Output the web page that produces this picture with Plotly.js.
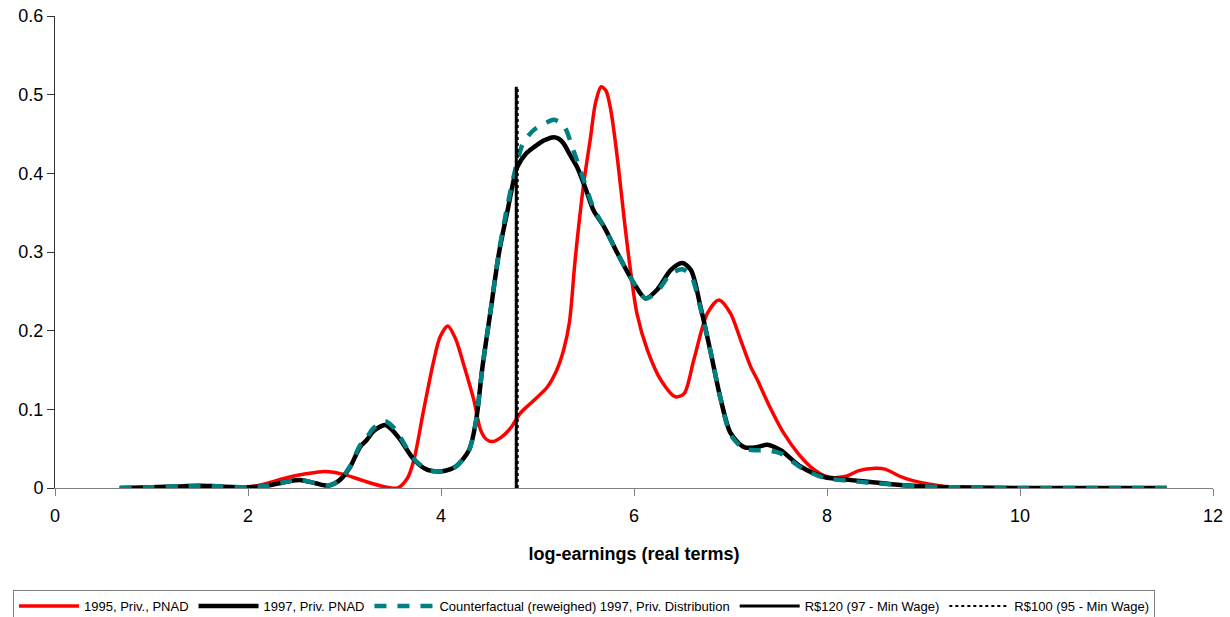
<!DOCTYPE html>
<html>
<head>
<meta charset="utf-8">
<script src="https://cdn.plot.ly/plotly-3.0.1.min.js"></script>
<style>html,body{margin:0;padding:0;background:#fff;}#chart{width:1230px;height:617px;}</style>
</head>
<body>
<div id="chart"></div>
<script>
// 1995, Priv., PNAD
const x1995 = [0.7,1.0,1.5,2.0,2.2,2.4,2.6,2.8,3.0,3.2,3.4,3.55,3.65,3.72,3.82,3.92,3.99,4.07,4.15,4.23,4.34,4.41,4.47,4.53,4.62,4.72,4.82,4.95,5.1,5.2,5.27,5.33,5.39,5.48,5.55,5.6,5.66,5.71,5.76,5.83,5.9,5.96,6.03,6.14,6.28,6.43,6.52,6.62,6.76,6.88,7.0,7.1,7.21,7.28,7.4,7.55,7.7,7.83,8.01,8.2,8.33,8.5,8.6,8.77,8.9,9.05,9.21,9.3];
const y1995 = [0,0,0.001,0.001,0.006,0.013,0.018,0.021,0.017,0.009,0.002,0,0.012,0.036,0.099,0.159,0.192,0.206,0.19,0.159,0.112,0.074,0.062,0.059,0.064,0.076,0.095,0.11,0.128,0.15,0.175,0.21,0.29,0.388,0.446,0.489,0.51,0.505,0.48,0.417,0.34,0.28,0.222,0.175,0.137,0.116,0.12,0.163,0.222,0.239,0.222,0.19,0.154,0.137,0.105,0.07,0.044,0.027,0.014,0.015,0.022,0.025,0.024,0.014,0.009,0.005,0.002,0];

// 1997, Priv. PNAD
const x1997 = [0.67,1.0,1.3,1.5,1.7,2.0,2.2,2.4,2.55,2.7,2.83,2.95,3.06,3.16,3.23,3.3,3.42,3.5,3.58,3.72,3.86,3.99,4.1,4.17,4.29,4.36,4.43,4.51,4.6,4.69,4.79,4.88,4.96,5.07,5.17,5.22,5.27,5.33,5.41,5.5,5.58,5.69,5.83,6.0,6.12,6.24,6.38,6.5,6.59,6.69,6.79,6.9,7.0,7.14,7.28,7.38,7.52,7.73,7.97,8.25,8.5,8.73,9.0,9.3,10.0,11.52];
const y1997 = [0,0.001,0.002,0.003,0.002,0.001,0.003,0.008,0.01,0.006,0.003,0.01,0.027,0.052,0.061,0.072,0.08,0.073,0.061,0.036,0.023,0.021,0.024,0.029,0.048,0.083,0.154,0.222,0.298,0.353,0.408,0.425,0.433,0.442,0.446,0.444,0.438,0.425,0.408,0.38,0.353,0.332,0.298,0.26,0.241,0.252,0.277,0.286,0.277,0.23,0.175,0.112,0.07,0.052,0.052,0.055,0.048,0.027,0.014,0.01,0.007,0.004,0.002,0.001,0,0];

// Counterfactual (reweighed) 1997, Priv. Distribution
const xCf = [0.67,1.0,1.3,1.5,1.7,2.0,2.2,2.4,2.55,2.7,2.83,2.95,3.06,3.16,3.23,3.3,3.42,3.5,3.58,3.72,3.86,3.99,4.1,4.17,4.29,4.36,4.43,4.51,4.6,4.69,4.79,4.85,4.96,5.07,5.17,5.27,5.37,5.48,5.58,5.69,5.83,6.0,6.12,6.24,6.38,6.5,6.59,6.69,6.79,6.9,7.0,7.14,7.28,7.38,7.52,7.73,7.97,8.25,8.5,8.73,9.0,9.3,10.0,11.52];
const yCf = [0,0.001,0.002,0.003,0.002,0.001,0.003,0.008,0.01,0.006,0.003,0.01,0.028,0.054,0.064,0.076,0.085,0.078,0.064,0.037,0.023,0.021,0.024,0.029,0.048,0.083,0.154,0.222,0.3,0.36,0.415,0.438,0.455,0.463,0.468,0.461,0.43,0.391,0.356,0.332,0.298,0.26,0.241,0.25,0.272,0.278,0.27,0.228,0.175,0.112,0.068,0.05,0.048,0.048,0.044,0.026,0.013,0.009,0.006,0.004,0.002,0.001,0,0];

// Minimum wage markers
const xMin97 = [4.78, 4.78];
const yMin97 = [0, 0.51];
const xMin95 = [4.795, 4.795];
const yMin95 = [0, 0.51];

const names = ['1995, Priv., PNAD','1997, Priv. PNAD','Counterfactual (reweighed) 1997, Priv. Distribution','R$120 (97 - Min Wage)','R$100 (95 - Min Wage)'];
const xTicks = [0,2,4,6,8,10,12];
const yTicks = [0,0.1,0.2,0.3,0.4,0.5,0.6];

const traces = [
  {x:x1995, y:y1995, name:names[0], mode:'lines', line:{color:'#FF0000', width:3.5, shape:'spline', smoothing:0.8}},
  {x:x1997, y:y1997, name:names[1], mode:'lines', line:{color:'#000000', width:4.5, shape:'spline', smoothing:0.8}},
  {x:xCf, y:yCf, name:names[2], mode:'lines', line:{color:'#008080', width:4.5, dash:'12px,11px', shape:'spline', smoothing:0.8}},
  {x:xMin97, y:yMin97, name:names[3], mode:'lines', line:{color:'#000000', width:3}},
  {x:xMin95, y:yMin95, name:names[4], mode:'lines', line:{color:'#000000', width:2, dash:'3px,3px'}}
];

const layout = {
  width:1230, height:617,
  margin:{l:55, r:17, t:16, b:129},
  paper_bgcolor:'#ffffff', plot_bgcolor:'#ffffff',
  font:{family:'Arial, "Liberation Sans", sans-serif', color:'#000000'},
  showlegend:true,
  xaxis:{
    range:[0,12], tickvals:xTicks, ticktext:xTicks.map(String),
    showgrid:false, zeroline:false, showline:true, linecolor:'#808080', linewidth:1,
    ticks:'outside', ticklen:7, tickcolor:'#808080', tickfont:{size:18}, ticklabelstandoff:4,
    title:{text:'<b>log-earnings (real terms)</b>', font:{size:18}, standoff:22}
  },
  yaxis:{
    range:[0,0.6], tickvals:yTicks, ticktext:yTicks.map(v=>v===0?'0':String(v)),
    showgrid:false, zeroline:false, showline:true, linecolor:'#333333', linewidth:1,
    ticks:'outside', ticklen:7, tickcolor:'#333333', tickfont:{size:18}
  },
  legend:{
    orientation:'h', xref:'container', yref:'container',
    x:13/1230, xanchor:'left', y:(617-590)/617, yanchor:'top',
    bordercolor:'#808080', borderwidth:1, font:{size:13}, itemwidth:60,
    tracegroupgap:0, itemclick:false
  }
};

Plotly.newPlot('chart', traces, layout, {displayModeBar:false, staticPlot:true});
</script>
</body>
</html>
